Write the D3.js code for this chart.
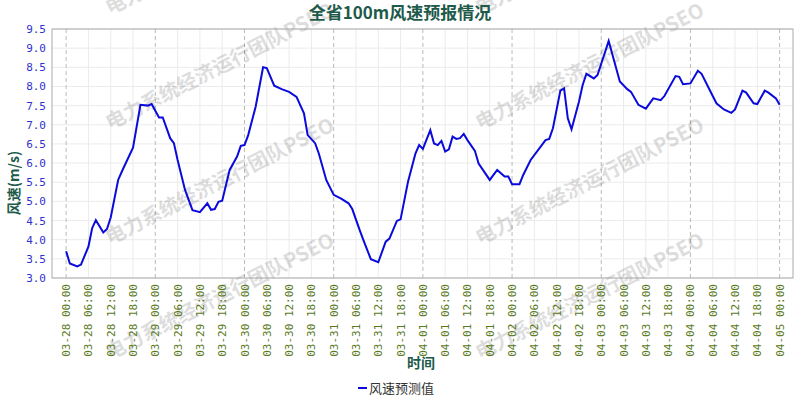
<!DOCTYPE html>
<html><head><meta charset="utf-8">
<script src="https://cdn.jsdelivr.net/npm/d3@7"></script>
<style>body{margin:0;background:#fff}</style>
</head><body><svg id="c" width="800" height="400"></svg>
<script>
const startDate = "2024-03-28T00:00:00";
const hours = [0,1,3,4,6,7,8,10,11,12,14,15,18,20,22,23,25,26,28,29,30,32,34,36,38,39,40,41,42,44,46,47,48,49,51,53,54,56,58,60,62,64,65,67,68,70,72,74,76,77,79,80,82,84,86,87,89,90,92,94,95,96,98,99,100,101,102,103,104,105,106,107,108,110,111,114,116,118,119,120,122,123,125,128,129,130,131,133,134,135,136,138,139,140,142,143,146,149,151,152,154,156,158,160,161,164,165,166,168,170,171,174,175,177,179,180,182,183,185,186,188,189,191,192];
const speed = [3.70,3.38,3.30,3.35,3.82,4.30,4.51,4.19,4.28,4.58,5.56,5.78,6.40,7.52,7.50,7.54,7.19,7.19,6.65,6.52,6.08,5.30,4.77,4.72,4.95,4.78,4.80,4.99,5.02,5.82,6.17,6.45,6.47,6.73,7.47,8.50,8.48,8.02,7.93,7.86,7.73,7.30,6.73,6.52,6.25,5.56,5.17,5.07,4.95,4.80,4.25,3.99,3.49,3.41,3.95,4.03,4.49,4.53,5.51,6.25,6.47,6.37,6.86,6.51,6.47,6.58,6.30,6.36,6.69,6.63,6.65,6.76,6.60,6.32,5.99,5.56,5.82,5.65,5.65,5.45,5.45,5.69,6.08,6.47,6.60,6.63,6.91,7.89,7.95,7.17,6.88,7.60,8.04,8.33,8.21,8.30,9.19,8.13,7.93,7.86,7.52,7.42,7.69,7.64,7.75,8.27,8.25,8.06,8.08,8.41,8.33,7.75,7.56,7.40,7.31,7.40,7.89,7.84,7.56,7.54,7.89,7.84,7.69,7.52];
const yTicks = [3.0,3.5,4.0,4.5,5.0,5.5,6.0,6.5,7.0,7.5,8.0,8.5,9.0,9.5];
const tickHours = d3.range(0,193,6);

const svg = d3.select("#c");
const W=800,H=400, m={l:52,r:7,t:29,b:122};
const t0 = new Date(startDate);
const toDate = h => new Date(t0.getTime()+h*3600e3);
const x = d3.scaleTime().domain([toDate(-3.8),toDate(195.6)]).range([m.l,W-m.r]);
const y = d3.scaleLinear().domain([3,9.5]).range([H-m.b,m.t]);
const fmt = d3.timeFormat("%m-%d %H:%M");

// grid
const g = svg.append("g");
g.selectAll(".hg").data(yTicks).join("line").attr("x1",m.l).attr("x2",W-m.r)
 .attr("y1",d=>y(d)).attr("y2",d=>y(d)).attr("stroke","#ebebeb");
g.selectAll(".vg").data(tickHours).join("line").attr("y1",m.t).attr("y2",H-m.b)
 .attr("x1",d=>x(toDate(d))).attr("x2",d=>x(toDate(d)))
 .attr("stroke",d=>d%24===0?"#bbb":"#ebebeb").attr("stroke-dasharray",d=>d%24===0?"4,3":null);

// watermark
const wm = svg.append("g");
[110,480].forEach(sx=>[15,130,245,360].forEach(sy=>{
  wm.append("text").attr("transform",`translate(${sx},${sy}) rotate(-27)`)
   .attr("font-family","Noto Sans CJK SC").attr("font-weight","bold").attr("font-size",20)
   .attr("fill","#000").attr("opacity",0.13).text("电力系统经济运行团队PSEO");
}));

// frame
svg.append("rect").attr("x",m.l).attr("y",m.t).attr("width",W-m.r-m.l).attr("height",H-m.b-m.t)
 .attr("fill","none").attr("stroke","#aaa");

// line
svg.append("path").datum(hours.map((h,i)=>[toDate(h),speed[i]]))
 .attr("fill","none").attr("stroke","#0a0adc").attr("stroke-width",2)
 .attr("d",d3.line().x(d=>x(d[0])).y(d=>y(d[1])));

// y axis
const ya = svg.append("g").attr("transform",`translate(${m.l},0)`)
 .call(d3.axisLeft(y).tickValues(yTicks).tickFormat(d3.format(".1f")).tickSize(0).tickPadding(6));
ya.select(".domain").remove();
ya.selectAll("text").attr("font-family","DejaVu Sans Mono").attr("font-size",11).attr("fill","#3030d0");

// x axis
const xa = svg.append("g").attr("transform",`translate(0,${H-m.b})`)
 .call(d3.axisBottom(x).tickValues(tickHours.map(toDate)).tickFormat(fmt).tickSize(0));
xa.select(".domain").remove();
xa.selectAll("text").attr("font-family","DejaVu Sans Mono").attr("font-size",11).attr("fill","#5a7a1e")
 .attr("text-anchor","end").attr("transform","rotate(-90)").attr("dx","-6").attr("dy","0.32em").attr("y",0);

// titles
svg.append("text").attr("x",400).attr("y",19).attr("text-anchor","middle")
 .attr("font-family","Noto Sans CJK SC").attr("font-weight","bold").attr("font-size",17)
 .attr("fill","#1e5a4a").text("全省100m风速预报情况");
svg.append("text").attr("transform","translate(19,183) rotate(-90)").attr("text-anchor","middle")
 .attr("font-family","Noto Sans CJK SC").attr("font-weight","bold").attr("font-size",14)
 .attr("fill","#1e5a4a").text("风速(m/s)");
svg.append("text").attr("x",421).attr("y",368).attr("text-anchor","middle")
 .attr("font-family","Noto Sans CJK SC").attr("font-weight","bold").attr("font-size",14)
 .attr("fill","#1e5a4a").text("时间");
// legend
svg.append("line").attr("x1",358).attr("x2",367).attr("y1",388).attr("y2",388).attr("stroke","#0a0adc").attr("stroke-width",2);
svg.append("text").attr("x",369).attr("y",393).attr("font-family","Noto Sans CJK SC").attr("font-size",13)
 .attr("fill","#333").text("风速预测值");
</script></body></html>
